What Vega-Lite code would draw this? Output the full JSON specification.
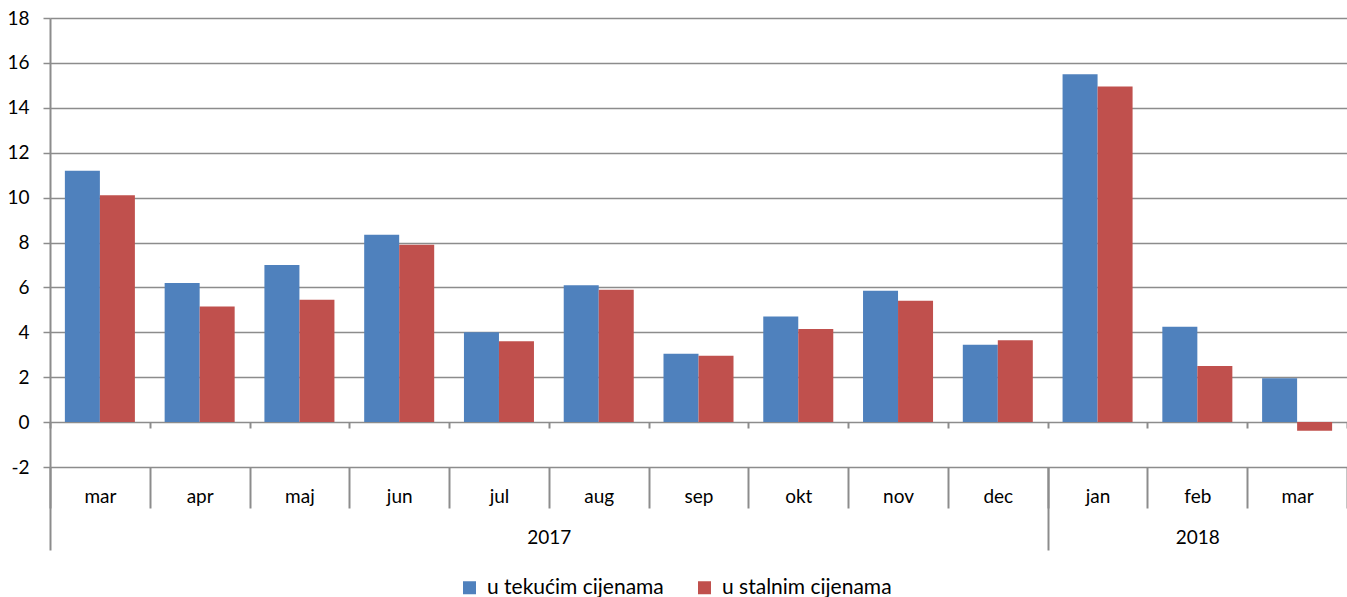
{
  "$schema": "https://vega.github.io/schema/vega-lite/v6.json",
  "width": 1297,
  "height": 449,
  "autosize": {"type": "none"},
  "padding": {"left": 50, "top": 18, "right": 0, "bottom": 130},
  "config": {"view": {"stroke": null}, "font": "Lato", "axis": {"labelFont": "Lato", "labelColor": "#000000"}},
  "datasets": {
    "bars": [
      {"cat": "mar 2017", "series": "u tekućim cijenama", "value": 11.2},
      {"cat": "mar 2017", "series": "u stalnim cijenama", "value": 10.1},
      {"cat": "apr 2017", "series": "u tekućim cijenama", "value": 6.2},
      {"cat": "apr 2017", "series": "u stalnim cijenama", "value": 5.15},
      {"cat": "maj 2017", "series": "u tekućim cijenama", "value": 7.0},
      {"cat": "maj 2017", "series": "u stalnim cijenama", "value": 5.45},
      {"cat": "jun 2017", "series": "u tekućim cijenama", "value": 8.35},
      {"cat": "jun 2017", "series": "u stalnim cijenama", "value": 7.9},
      {"cat": "jul 2017", "series": "u tekućim cijenama", "value": 4.0},
      {"cat": "jul 2017", "series": "u stalnim cijenama", "value": 3.6},
      {"cat": "aug 2017", "series": "u tekućim cijenama", "value": 6.1},
      {"cat": "aug 2017", "series": "u stalnim cijenama", "value": 5.9},
      {"cat": "sep 2017", "series": "u tekućim cijenama", "value": 3.05},
      {"cat": "sep 2017", "series": "u stalnim cijenama", "value": 2.95},
      {"cat": "okt 2017", "series": "u tekućim cijenama", "value": 4.7},
      {"cat": "okt 2017", "series": "u stalnim cijenama", "value": 4.15},
      {"cat": "nov 2017", "series": "u tekućim cijenama", "value": 5.85},
      {"cat": "nov 2017", "series": "u stalnim cijenama", "value": 5.4},
      {"cat": "dec 2017", "series": "u tekućim cijenama", "value": 3.45},
      {"cat": "dec 2017", "series": "u stalnim cijenama", "value": 3.65},
      {"cat": "jan 2018", "series": "u tekućim cijenama", "value": 15.5},
      {"cat": "jan 2018", "series": "u stalnim cijenama", "value": 14.95},
      {"cat": "feb 2018", "series": "u tekućim cijenama", "value": 4.25},
      {"cat": "feb 2018", "series": "u stalnim cijenama", "value": 2.5},
      {"cat": "mar 2018", "series": "u tekućim cijenama", "value": 1.95},
      {"cat": "mar 2018", "series": "u stalnim cijenama", "value": -0.38}
    ],
    "years": [
      {"year": "2017", "start": 0},
      {"year": "2018", "start": 10}
    ]
  },
  "layer": [
    {
      "data": {"name": "bars"},
      "mark": {"type": "bar"},
      "encoding": {
        "x": {
          "field": "cat", "type": "nominal", "sort": null,
          "scale": {"paddingInner": 0, "paddingOuter": 0},
          "axis": {
            "orient": "bottom", "title": null, "domain": false, "grid": false,
            "ticks": true, "tickBand": "extent", "tickSize": 41, "tickColor": "#8c8c8c", "tickWidth": 2,
            "labelExpr": "split(datum.label, ' ')[0]", "labelPadding": -6, "labelBaseline": "alphabetic",
            "labelFontSize": 19, "labelAngle": 0
          }
        },
        "xOffset": {
          "field": "series", "type": "nominal", "sort": ["u tekućim cijenama", "u stalnim cijenama"],
          "scale": {"paddingInner": 0, "paddingOuter": 0.425}
        },
        "y": {
          "field": "value", "type": "quantitative",
          "scale": {"domain": [-2, 18], "nice": false, "zero": false},
          "axis": {
            "values": [-2, 0, 2, 4, 6, 8, 10, 12, 14, 16, 18], "title": null,
            "labelExpr": "datum.value < 0 ? '-' + abs(datum.value) : datum.label",
            "grid": true, "gridColor": "#8c8c8c", "gridWidth": 1.5,
            "domain": true, "domainColor": "#8c8c8c", "domainWidth": 2,
            "tickColor": "#8c8c8c", "tickWidth": 1.5, "tickSize": 7,
            "labelPadding": 14, "labelFontSize": 19
          }
        },
        "color": {
          "field": "series", "type": "nominal",
          "scale": {"domain": ["u tekućim cijenama", "u stalnim cijenama"], "range": ["#4F81BD", "#C0504D"]},
          "legend": {
            "orient": "none", "legendX": 409, "legendY": 559, "direction": "horizontal", "title": null,
            "symbolType": "square", "symbolSize": 169, "symbolStrokeWidth": 0,
            "labelFontSize": 21, "labelOffset": 7, "columnPadding": 30, "labelLimit": 0,
            "labelColor": "#000000", "labelFont": "Lato"
          }
        }
      }
    },
    {
      "data": {"name": "bars"},
      "mark": {"type": "bar", "opacity": 0},
      "encoding": {
        "x": {
          "field": "cat", "type": "nominal", "sort": null,
          "scale": {"paddingInner": 0, "paddingOuter": 0},
          "axis": {
            "orient": "bottom", "offset": -45, "title": null, "domain": false, "grid": false,
            "ticks": true, "tickBand": "extent", "tickSize": 6, "tickColor": "#8c8c8c", "tickWidth": 2,
            "labels": false
          }
        }
      }
    },
    {
      "data": {"name": "years"},
      "mark": {"type": "rule", "opacity": 0},
      "encoding": {
        "x": {
          "field": "start", "type": "quantitative",
          "scale": {"domain": [0, 13], "nice": false, "zero": false},
          "axis": {
            "orient": "bottom", "title": null, "values": [0, 5, 10, 11.5],
            "domain": false, "grid": false, "ticks": true, "tickSize": 83,
            "tickColor": "#8c8c8c", "tickWidth": 2,
            "tickOpacity": {"condition": {"test": "datum.value == 5 || datum.value == 11.5", "value": 0}, "value": 1},
            "labelExpr": "datum.value == 5 ? '2017' : datum.value == 11.5 ? '2018' : ''",
            "labelPadding": -7, "labelBaseline": "alphabetic", "labelFontSize": 19,
            "labelFlush": false, "labelOverlap": false
          }
        }
      }
    }
  ],
  "resolve": {
    "scale": {"x": "independent", "xOffset": "independent"},
    "axis": {"x": "independent", "y": "independent"}
  }
}
